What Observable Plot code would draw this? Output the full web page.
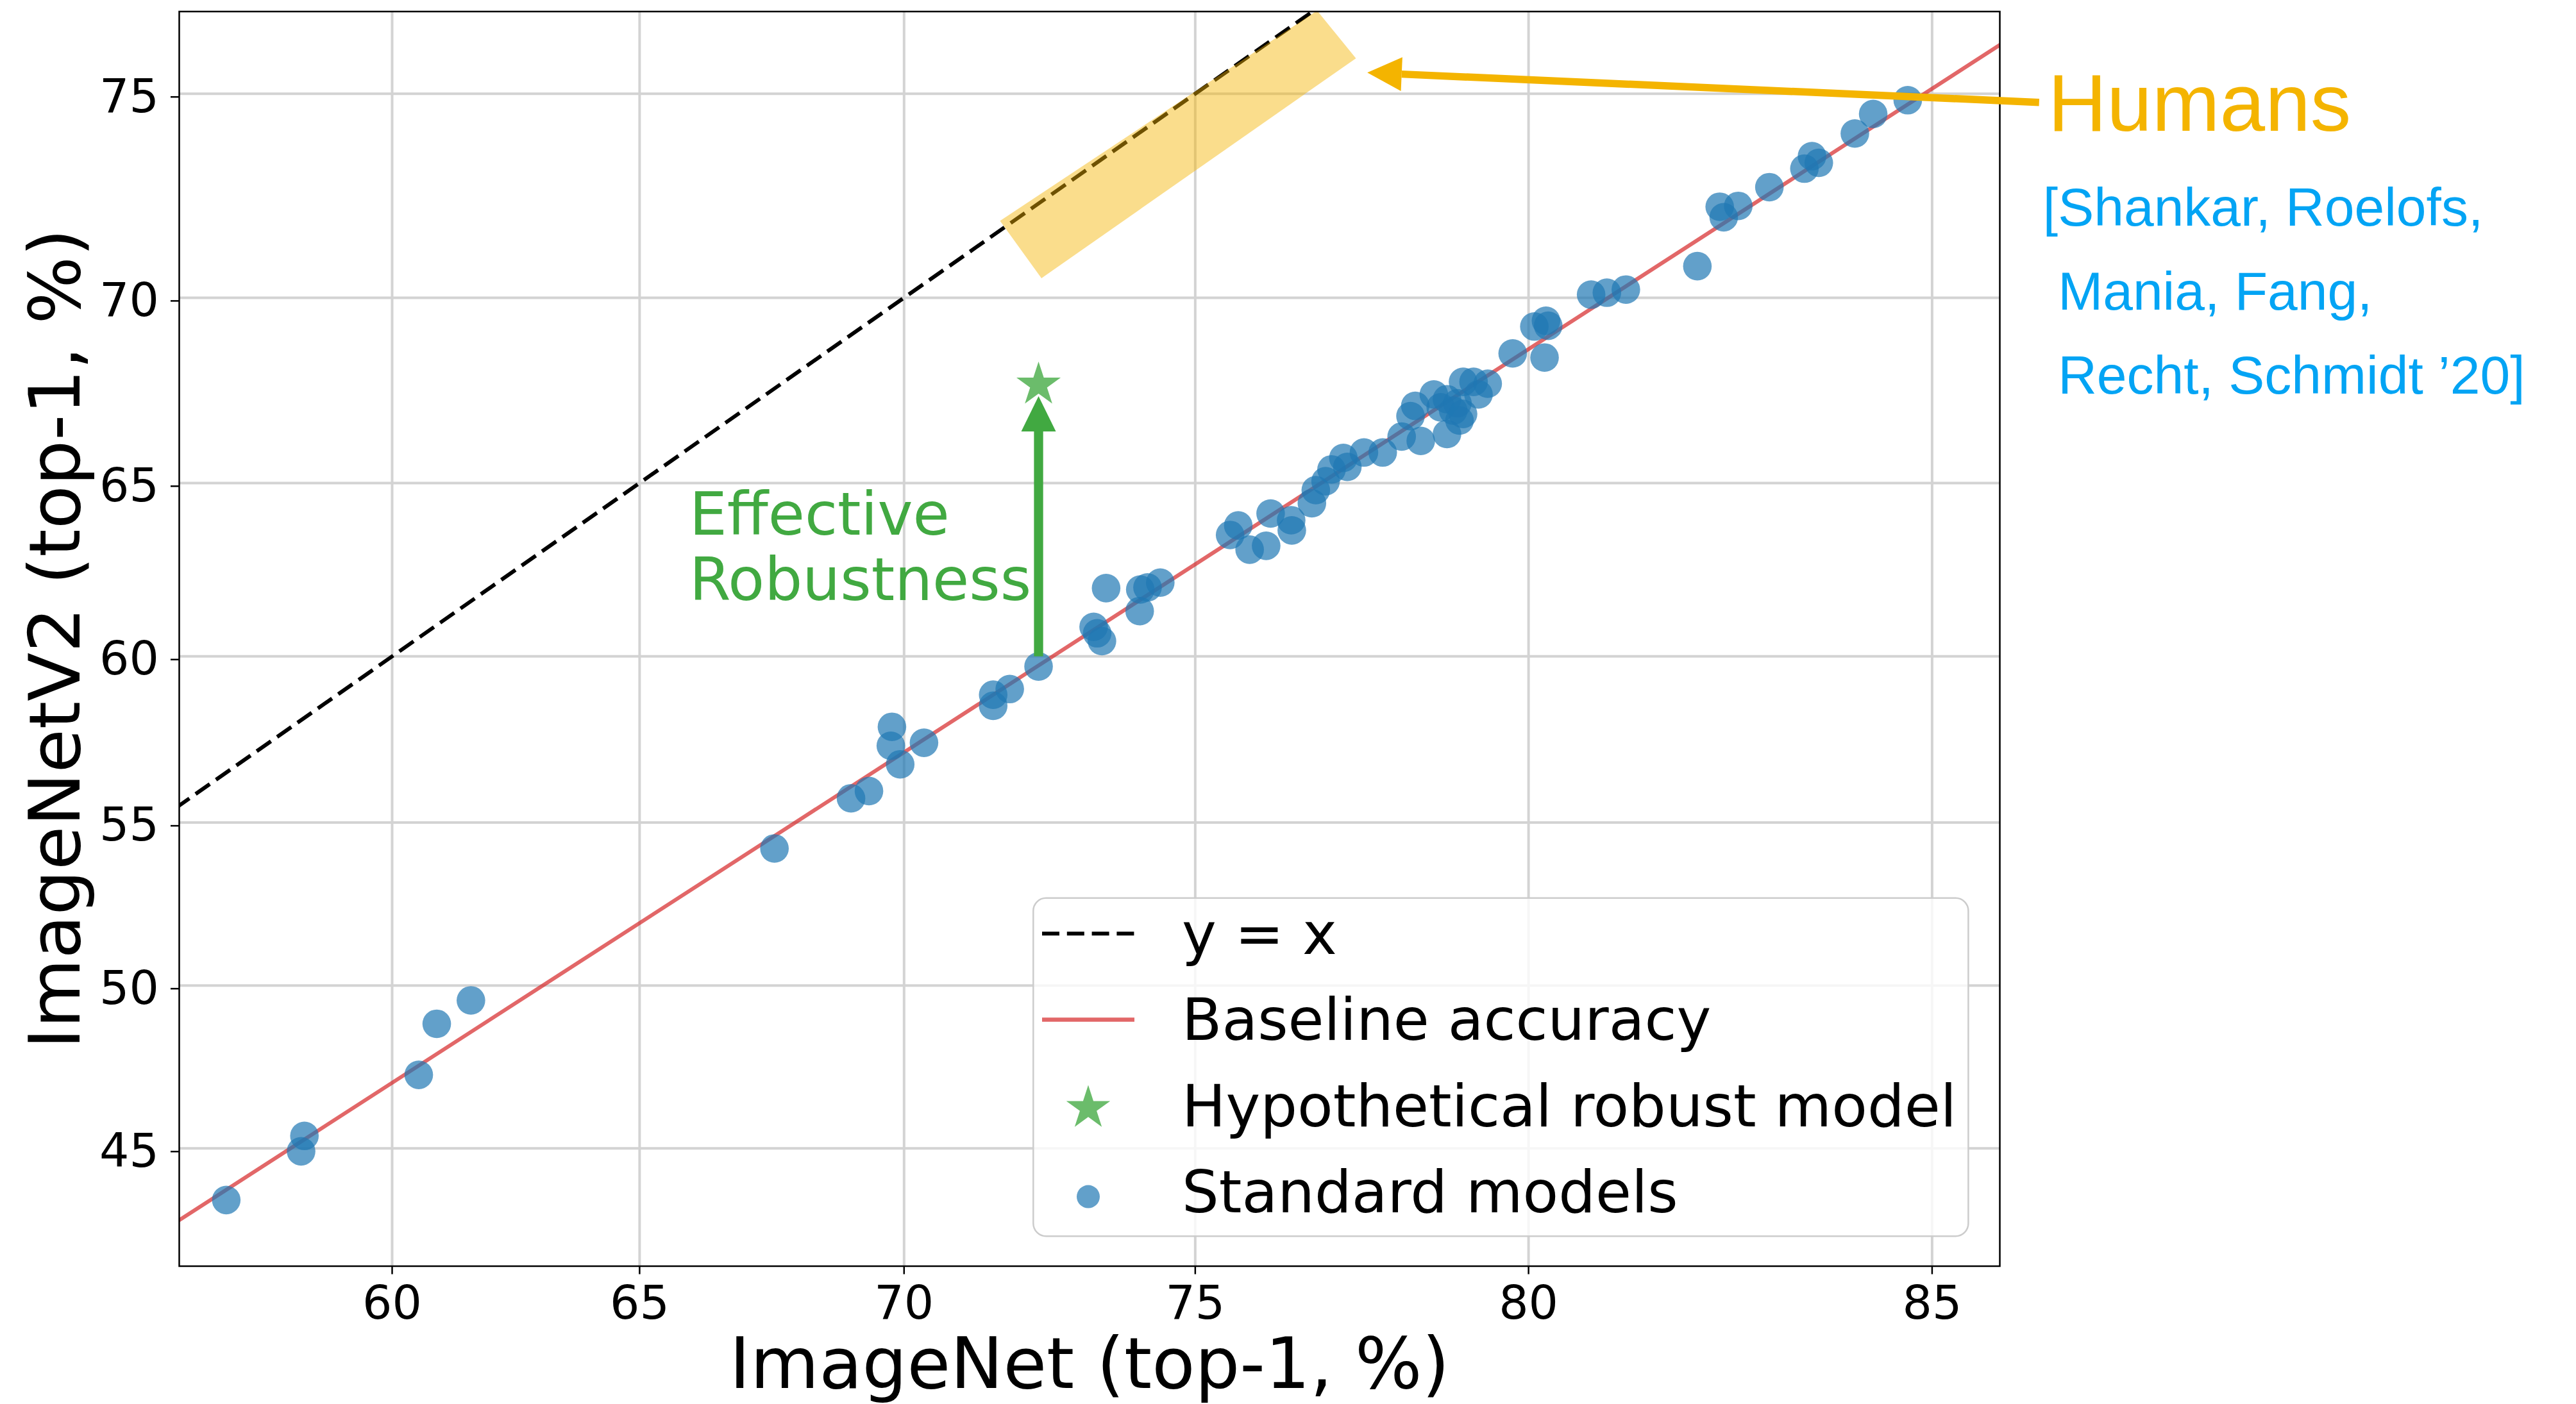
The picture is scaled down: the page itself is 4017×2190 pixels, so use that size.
<!DOCTYPE html>
<html>
<head>
<meta charset="utf-8">
<script src="https://cdn.jsdelivr.net/npm/d3@7"></script>
<script src="https://cdn.jsdelivr.net/npm/@observablehq/plot@0.6"></script>
<style>
  html, body { margin: 0; padding: 0; background: #fff; }
  #chart { position: relative; width: 4017px; height: 2190px; overflow: hidden; background: #fff; }
</style>
</head>
<body>
<div id="chart"></div>
<script>
// ---------------- data ----------------
// ImageNet top-1 accuracy (%) of the standard models
const imagenetTop1 = [
  56.52, 58.10, 58.17, 60.55, 60.92, 61.62, 67.60, 69.03, 69.36, 69.93,
  69.76, 69.78, 70.36, 71.59, 71.59, 71.88, 72.38, 73.32, 73.46, 73.38,
  73.53, 74.09, 74.10, 74.22, 74.43, 75.56, 75.69, 75.87, 76.13, 76.20,
  76.52, 76.53, 76.84, 76.90, 77.05, 77.14, 77.32, 77.38, 77.63, 77.91,
  78.19, 78.47, 78.32, 78.39, 78.66, 78.76, 78.85, 78.94, 79.00, 78.85,
  79.03, 79.08, 79.08, 79.23, 79.30, 79.43, 79.78, 80.08, 80.24, 80.27,
  80.22, 80.85, 81.06, 81.31, 82.23, 82.51, 82.56, 82.74, 83.12, 83.54,
  83.63, 83.71, 84.13, 84.34, 84.73
];
// ImageNetV2 top-1 accuracy (%) of the same models
const imagenetV2Top1 = [
  43.43, 44.91, 45.38, 47.25, 48.82, 49.54, 54.21, 55.74, 55.96, 56.77,
  57.33, 57.90, 57.42, 58.53, 58.86, 59.03, 59.70, 60.87, 60.45, 60.68,
  62.00, 61.33, 61.96, 62.02, 62.16, 63.53, 63.80, 63.11, 63.22, 64.14,
  63.95, 63.66, 64.43, 64.80, 65.05, 65.38, 65.70, 65.45, 65.85, 65.85,
  66.29, 66.17, 66.85, 67.13, 67.44, 67.09, 67.31, 67.00, 67.20, 66.36,
  66.73, 66.91, 67.78, 67.78, 67.44, 67.73, 68.54, 69.25, 69.40, 69.27,
  68.43, 70.08, 70.13, 70.21, 70.81, 72.30, 72.04, 72.32, 72.78, 73.23,
  73.53, 73.37, 74.07, 74.53, 74.85
];
const xTicks = [60, 65, 70, 75, 80, 85];
const yTicks = [45, 50, 55, 60, 65, 70, 75];
const xDomain = [55.52, 85.73];
const yDomain = [41.44, 76.85];

// y = x reference line
const identityX = [55, 80];
// baseline accuracy fit (end points as read)
const baselineX = [55.52, 85.73];
const baselineY = [42.82, 76.11];

// hypothetical robust model
const robustX = [72.38];
const robustY = [67.7];
// effective robustness arrow (x, from, to)
const effArrowX = [72.38];
const effArrowFrom = [60.0];
const effArrowTo = [66.43];
const effLabel = ["Effective\nRobustness"];
const effLabelX = [65.97];
const effLabelY = [64.85];

// human accuracy band (corner points)
const bandX = [71.71, 72.43, 77.51, 76.92];
const bandY = [71.95, 70.50, 75.81, 76.87];
// humans arrow
const humansArrowX = [86.14, 78.19];
const humansArrowY = [74.80, 75.45];
const humansLabel = ["Humans"];
const humansLabelX = [86.23];
const humansLabelY = [75.47];
const citation = ["[Shankar, Roelofs,\n\u00a0Mania, Fang,\n\u00a0Recht, Schmidt \u201920]"];
const citationX = [86.18];
const citationY = [73.29];

const legendLabels = ["y = x", "Baseline accuracy", "Hypothetical robust model", "Standard models"];

// ---------------- helpers ----------------
const logit = (p) => Math.log(p / (100 - p));
const unlogit = (v) => 100 / (1 + Math.exp(-v));

function headMarker(len, wid) {
  return (color, context) => {
    const doc = (context && context.document) || document;
    const ns = "http://www.w3.org/2000/svg";
    const m = doc.createElementNS(ns, "marker");
    m.setAttribute("viewBox", `0 ${-wid / 2} ${len} ${wid}`);
    m.setAttribute("markerUnits", "userSpaceOnUse");
    m.setAttribute("markerWidth", len);
    m.setAttribute("markerHeight", wid);
    m.setAttribute("refX", 0);
    m.setAttribute("refY", 0);
    m.setAttribute("orient", "auto");
    m.setAttribute("overflow", "visible");
    const p = doc.createElementNS(ns, "path");
    p.setAttribute("d", `M0,${-wid / 2}L${len},0L0,${wid / 2}Z`);
    p.setAttribute("fill", color);
    p.setAttribute("stroke", "none");
    m.appendChild(p);
    return m;
  };
}

const GREEN = "#41a941";
const YELLOW = "#f4b400";
const CITE = "#03a4f4";

const chart = Plot.plot({
  width: 4017,
  height: 2190,
  marginLeft: 279,
  marginRight: 899,
  marginTop: 17.5,
  marginBottom: 215.5,
  style: {fontFamily: "'DejaVu Sans', sans-serif", background: "white", color: "black", maxWidth: "none"},
  x: {domain: xDomain.map(logit)},
  y: {domain: yDomain.map(logit)},
  marks: [
    Plot.gridX(xTicks.map(logit), {stroke: "#d3d3d3", strokeOpacity: 1, strokeWidth: 4}),
    Plot.gridY(yTicks.map(logit), {stroke: "#d3d3d3", strokeOpacity: 1, strokeWidth: 4}),
    Plot.line(baselineX, {x: (d) => logit(d), y: (d, i) => logit(baselineY[i]), stroke: "#d62728", strokeOpacity: 0.7, strokeWidth: 6, clip: true}),
    Plot.line(identityX, {x: (d) => logit(d), y: (d) => logit(d), stroke: "black", strokeWidth: 6, strokeDasharray: "27,11.8", strokeLinecap: "butt", clip: true}),
    Plot.line(bandX, {x: (d) => logit(d), y: (d, i) => logit(bandY[i]), fill: YELLOW, fillOpacity: 0.45, stroke: "none", clip: true}),
    Plot.dot(imagenetTop1, {x: (d) => logit(d), y: (d, i) => logit(imagenetV2Top1[i]), r: 22.3, fill: "#1f77b4", fillOpacity: 0.7, stroke: "none"}),
    Plot.link(effArrowX, {x1: (d) => logit(d), x2: (d) => logit(d), y1: (d, i) => logit(effArrowFrom[i]), y2: (d, i) => logit(effArrowTo[i]), stroke: GREEN, strokeWidth: 14.3, markerEnd: headMarker(55, 54)}),
    Plot.dot(robustX, {x: (d) => logit(d), y: (d, i) => logit(robustY[i]), symbol: "star", r: 21.7, fill: "#2ca02c", fillOpacity: 0.7, stroke: "none"}),
    Plot.text(effLabel, {x: (d, i) => logit(effLabelX[i]), y: (d, i) => logit(effLabelY[i]), text: (d) => d, textAnchor: "start", lineAnchor: "top", lineHeight: 1.097, fontSize: 93, fill: GREEN}),
    Plot.axisX(xTicks.map(logit), {tickFormat: (v) => Math.round(unlogit(v)), fontSize: 73, tickSize: 13, tickPadding: 17.5, strokeWidth: 2.5, label: null}),
    Plot.axisY(yTicks.map(logit), {tickFormat: (v) => Math.round(unlogit(v)), fontSize: 73, tickSize: 13, tickPadding: 18.5, strokeWidth: 2.5, dy: 5, label: null}),
    Plot.frame({stroke: "black", strokeWidth: 2.5}),
    Plot.text(["ImageNet (top-1, %)"], {text: (d) => d, frameAnchor: "bottom", textAnchor: "middle", lineAnchor: "middle", dy: 155, fontSize: 110}),
    Plot.text(["ImageNetV2 (top-1, %)"], {text: (d) => d, frameAnchor: "left", textAnchor: "middle", lineAnchor: "middle", rotate: -90, dx: -190.8, fontSize: 111}),
    Plot.text(humansLabel, {x: (d, i) => logit(humansLabelX[i]), y: (d, i) => logit(humansLabelY[i]), text: (d) => d, textAnchor: "start", lineAnchor: "top", fontSize: 127, fontFamily: "'Liberation Sans', Arial, sans-serif", fill: YELLOW}),
    Plot.text(citation, {x: (d, i) => logit(citationX[i]), y: (d, i) => logit(citationY[i]), text: (d) => d, textAnchor: "start", lineAnchor: "top", lineHeight: 1.56, fontSize: 84, fontFamily: "'Liberation Sans', Arial, sans-serif", fill: CITE}),
    Plot.link([0], {x1: logit(humansArrowX[0]), y1: logit(humansArrowY[0]), x2: logit(humansArrowX[1]), y2: logit(humansArrowY[1]), stroke: YELLOW, strokeWidth: 11.5, markerEnd: headMarker(53.6, 52.6)})
  ]
});

const container = document.getElementById("chart");
container.appendChild(chart);

// ---------------- legend (inside the plot, lower right) ----------------
const overlay = d3.create("svg")
  .attr("width", 4017).attr("height", 2190)
  .style("position", "absolute").style("left", "0").style("top", "0")
  .style("pointer-events", "none");
const lg = overlay.append("g").attr("font-family", "'DejaVu Sans', sans-serif").attr("font-size", 91).attr("fill", "black");
lg.append("rect")
  .attr("x", 1611.3).attr("y", 1400.7).attr("width", 1458.1).attr("height", 527.5)
  .attr("rx", 20).attr("ry", 20)
  .attr("fill", "white").attr("fill-opacity", 0.8)
  .attr("stroke", "#cccccc").attr("stroke-width", 2.5);
legendLabels.forEach((label, i) => {
  const base = 1488.3 + i * 134.1;
  lg.append("text").attr("x", 1843).attr("y", base).text(label);
  if (i === 0) {
    lg.append("line").attr("x1", 1625).attr("x2", 1769).attr("y1", base - 32).attr("y2", base - 32)
      .attr("stroke", "black").attr("stroke-width", 6).attr("stroke-dasharray", "27,11.8");
  } else if (i === 1) {
    lg.append("line").attr("x1", 1625).attr("x2", 1769).attr("y1", base - 32).attr("y2", base - 32)
      .attr("stroke", "#d62728").attr("stroke-opacity", 0.7).attr("stroke-width", 6.5);
  } else if (i === 2) {
    lg.append("path").attr("transform", `translate(1697,${base - 28})`)
      .attr("d", d3.symbol(d3.symbolStar, 1455)())
      .attr("fill", "#2ca02c").attr("fill-opacity", 0.7);
  } else {
    lg.append("circle").attr("cx", 1697).attr("cy", base - 24).attr("r", 18)
      .attr("fill", "#1f77b4").attr("fill-opacity", 0.7);
  }
});
container.appendChild(overlay.node());
</script>
</body>
</html>
